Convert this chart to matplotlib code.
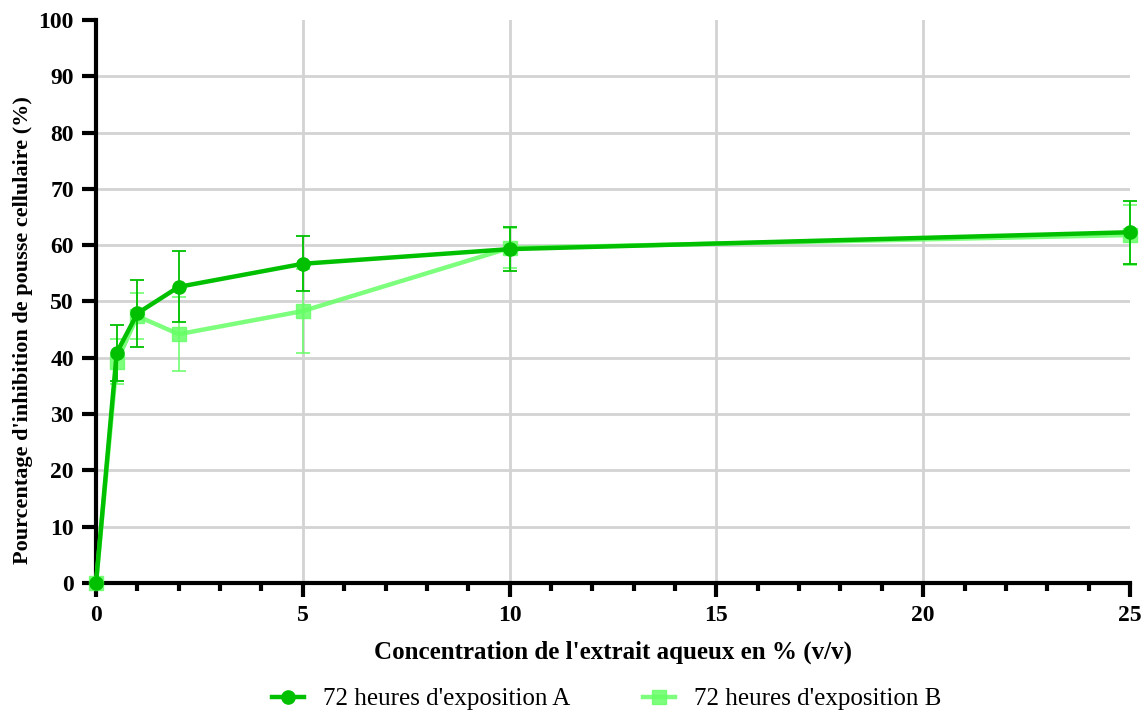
import matplotlib
matplotlib.use("Agg")
import matplotlib.pyplot as plt
import numpy as np
from matplotlib.ticker import MultipleLocator
from matplotlib.lines import Line2D

conc = [0, 0.5, 1, 2, 5, 10, 25]
serie_a = [0, 40.9, 47.9, 52.6, 56.7, 59.3, 62.3]
err_a = [0, 5.0, 6.0, 6.3, 4.9, 3.9, 5.6]
serie_b = [0, 39.3, 47.4, 44.2, 48.3, 59.5, 61.8]
err_b = [0, 4.0, 4.1, 6.6, 7.5, 3.5, 5.3]
labels = ["72 heures d'exposition A", "72 heures d'exposition B"]

plt.rcParams['font.family'] = ['Liberation Serif', 'DejaVu Serif']

fig = plt.figure(figsize=(11.46, 7.13), dpi=100)
ax = fig.add_axes([0.0838, 0.1823, 0.9022, 0.7897])

col_b = '#66ff66'
col_a = '#00c000'
ax.errorbar(conc, serie_b, yerr=err_b, color=col_b, alpha=0.85, lw=3.2,
            marker='s', ms=9.5, capsize=5, elinewidth=1.3, capthick=1.3,
            zorder=3, clip_on=False)
ax.errorbar(conc, serie_a, yerr=err_a, color=col_a, lw=3.2,
            marker='o', ms=9.5, capsize=5, elinewidth=1.3, capthick=1.3,
            zorder=4, clip_on=False)

ax.set_xlim(0, 25)
ax.set_ylim(0, 100)
ax.xaxis.set_major_locator(MultipleLocator(5))
ax.xaxis.set_minor_locator(MultipleLocator(1))
ax.yaxis.set_major_locator(MultipleLocator(10))

# grid lines (interior only)
for yv in np.arange(10, 100, 10):
    ax.axhline(yv, color='#d3d3d3', lw=2, zorder=0)
for xv in np.arange(5, 25, 5):
    ax.axvline(xv, color='#d3d3d3', lw=2, zorder=0)

for s in ['top', 'right']:
    ax.spines[s].set_visible(False)
for s in ['left', 'bottom']:
    ax.spines[s].set_linewidth(3)
    ax.spines[s].set_zorder(2)

ax.tick_params(axis='both', which='major', length=10, width=3, labelsize=17)
ax.tick_params(axis='x', which='minor', length=6, width=3)
ax.tick_params(axis='x', pad=6)
ax.tick_params(axis='y', pad=6)
for lab in ax.get_xticklabels() + ax.get_yticklabels():
    lab.set_fontweight('bold')

ax.set_xlabel("Concentration de l'extrait aqueux en % (v/v)", fontsize=18,
              fontweight='bold', labelpad=10)
ax.set_ylabel("Pourcentage d'inhibition de pousse cellulaire (%)", fontsize=16,
              fontweight='bold')
ax.yaxis.set_label_coords(-0.061, 0.449)

handles = [Line2D([], [], color=col_a, lw=3.2, marker='o', ms=9.5),
           Line2D([], [], color=col_b, alpha=0.85, lw=3.2, marker='s', ms=9.5)]
leg = fig.legend(handles, labels, loc='center left',
                 bbox_to_anchor=(0.2373, 0.0196), ncol=2, frameon=False, fontsize=18,
                 columnspacing=2.9, handlelength=1.28, handletextpad=0.76,
                 borderpad=0, borderaxespad=0)

fig.savefig('out.png', dpi=100)
